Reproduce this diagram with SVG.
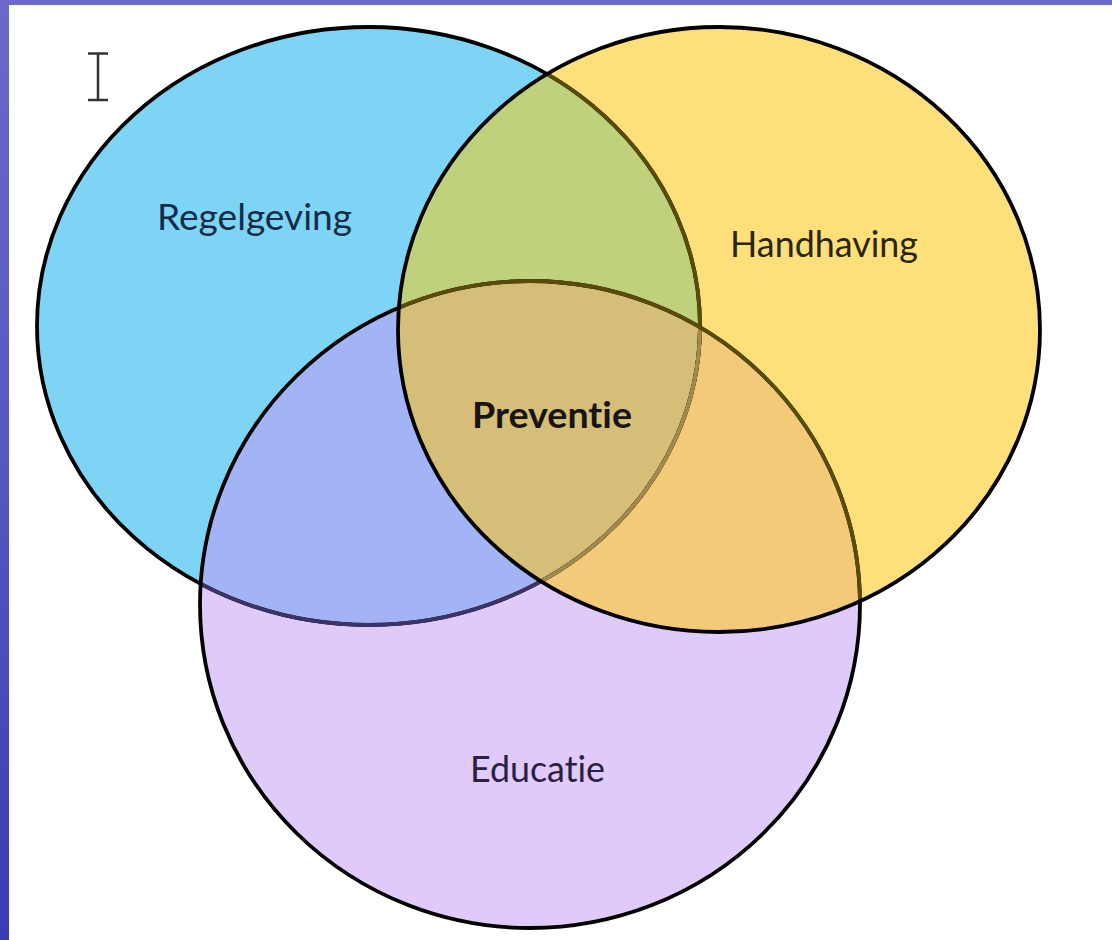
<svg xmlns="http://www.w3.org/2000/svg" width="1112" height="940" viewBox="0 0 1112 940">
  <defs>
    <linearGradient id="frame" x1="0" y1="0" x2="0" y2="1">
      <stop offset="0" stop-color="#6d68cc"/>
      <stop offset="0.5" stop-color="#5458c0"/>
      <stop offset="1" stop-color="#3a3cb0"/>
    </linearGradient>
    <ellipse id="eB" cx="368.5" cy="326" rx="331.5" ry="299"/>
    <ellipse id="eY" cx="719" cy="329.5" rx="321" ry="302.5"/>
    <ellipse id="eP" cx="530" cy="604.5" rx="330" ry="323.5"/>
    <clipPath id="cB"><use href="#eB"/></clipPath>
    <clipPath id="cY"><use href="#eY"/></clipPath>
    <clipPath id="cP"><use href="#eP"/></clipPath>
    <style>
      .lbl { font-family: Lato, "Noto Sans", "Liberation Sans", sans-serif; font-size: 37px; text-anchor: middle; font-variant-ligatures: none; font-feature-settings: "liga" 0, "clig" 0; }
      .edge { fill: none; stroke-width: 3.8; }
    </style>
  </defs>

  <rect x="0" y="0" width="1112" height="940" fill="url(#frame)"/>
  <rect x="9" y="5" width="1103" height="935" fill="#ffffff"/>

  <!-- cursor icon -->
  <path d="M88 53.5 H108 M98 53.5 V100 M88 100 H108" fill="none" stroke="#333333" stroke-width="2.5"/>

  <!-- base fills -->
  <g id="regelgeving-fill"><use href="#eB" fill="#7dd4f4"/></g>
  <g id="educatie-fill"><use href="#eP" fill="#e0cafa"/></g>
  <g id="handhaving-fill"><use href="#eY" fill="#fde07a"/></g>

  <!-- overlaps -->
  <g id="overlaps">
    <g clip-path="url(#cB)"><use href="#eY" fill="#bfd17a"/></g>
    <g clip-path="url(#cB)"><use href="#eP" fill="#a2b4f6"/></g>
    <g clip-path="url(#cY)"><use href="#eP" fill="#f2ca78"/></g>
    <g clip-path="url(#cB)"><g clip-path="url(#cY)"><use href="#eP" fill="#d4be78"/></g></g>
  </g>

  <!-- outlines -->
  <g id="outlines">
    <use href="#eB" class="edge" stroke="#000000"/>
    <g clip-path="url(#cP)"><use href="#eB" class="edge" stroke="#3c3468"/></g>
    <g clip-path="url(#cY)"><use href="#eB" class="edge" stroke="#5a4c08"/></g>
    <g clip-path="url(#cY)"><g clip-path="url(#cP)"><use href="#eB" class="edge" stroke="#a38a4c"/></g></g>
    <use href="#eP" class="edge" stroke="#000000"/>
    <g clip-path="url(#cY)"><use href="#eP" class="edge" stroke="#5a4c08"/></g>
    <use href="#eY" class="edge" stroke="#000000"/>
  </g>

  <!-- labels -->
  <g id="regelgeving"><text class="lbl" x="254.5" y="230" fill="#142c48" textLength="195" lengthAdjust="spacingAndGlyphs">Regelgeving</text></g>
  <g id="handhaving"><text class="lbl" x="824" y="257" fill="#2a2410" textLength="188" lengthAdjust="spacingAndGlyphs">Handhaving</text></g>
  <g id="preventie"><text class="lbl" x="552" y="428" fill="#1a1410" font-weight="bold" textLength="160" lengthAdjust="spacingAndGlyphs">Preventie</text></g>
  <g id="educatie"><text class="lbl" x="537.5" y="782" fill="#2a2040" textLength="135" lengthAdjust="spacingAndGlyphs">Educatie</text></g>
</svg>
